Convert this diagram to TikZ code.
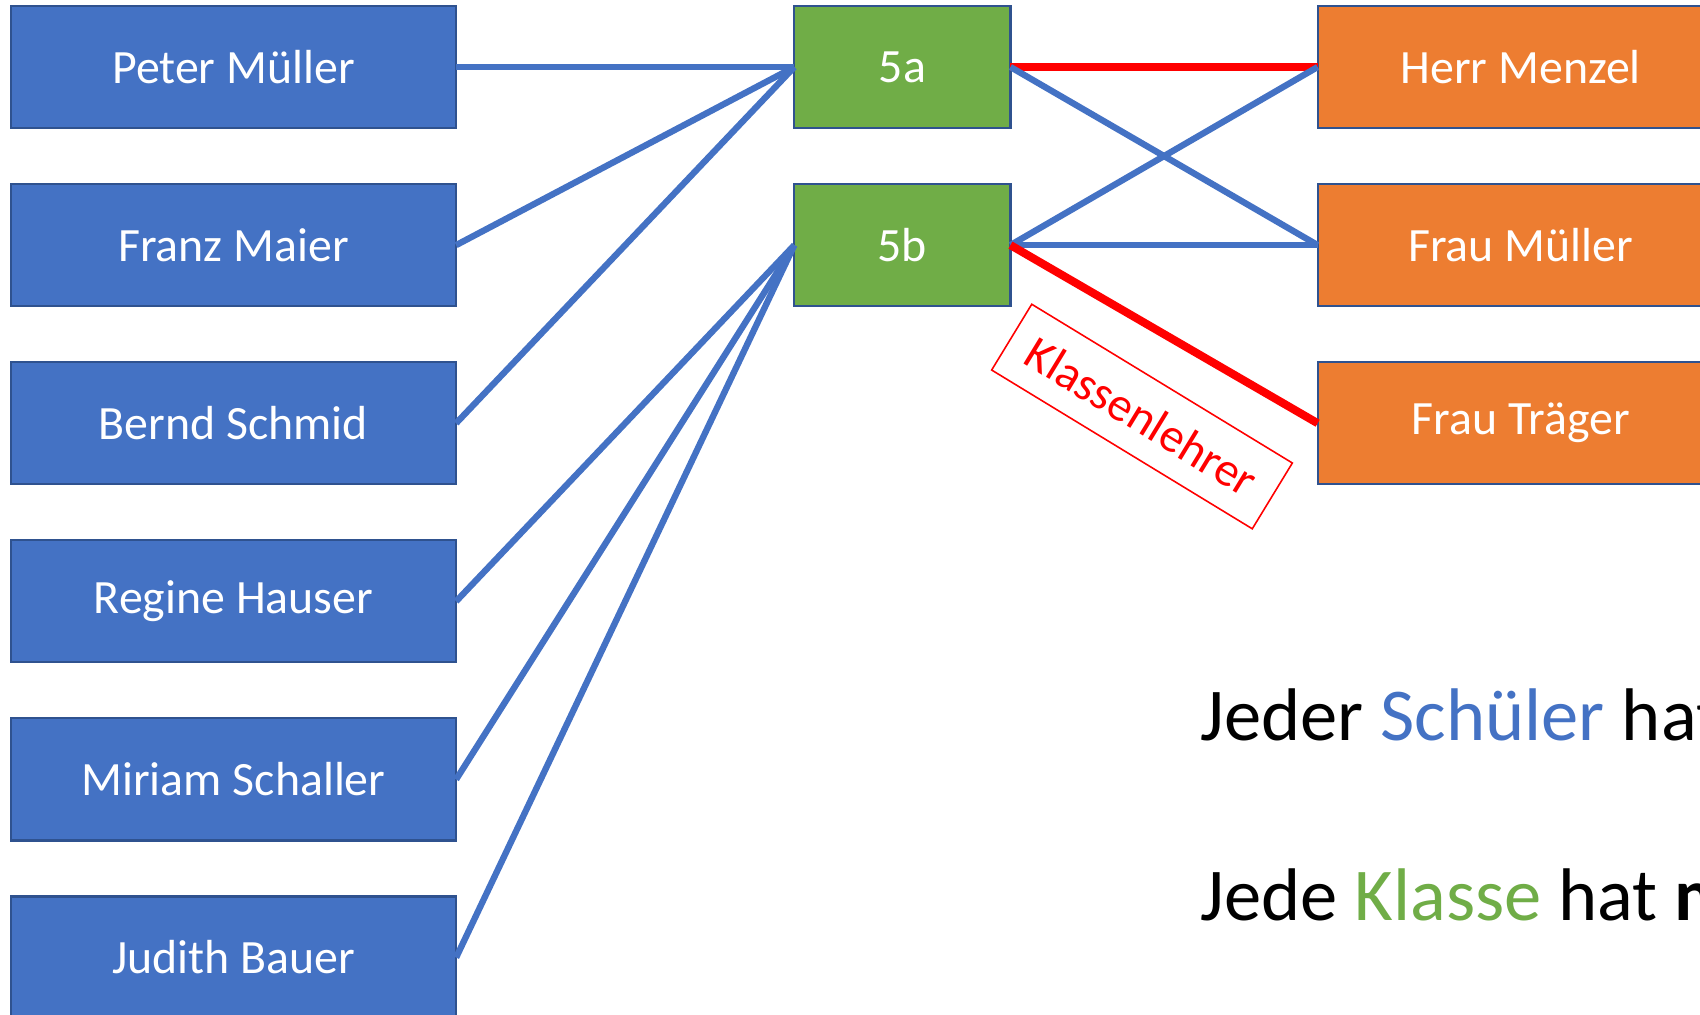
\documentclass[tikz,border=0pt]{standalone}
\usepackage{fontspec}
\setmainfont{Carlito}
\usepackage{tikz}
\usetikzlibrary{positioning}
\definecolor{officeblue}{HTML}{4472C4}
\definecolor{officeborder}{HTML}{2F528F}
\definecolor{officegreen}{HTML}{70AD47}
\definecolor{officeorange}{HTML}{ED7D31}
\tikzset{
    entitynode/.style = {
        align=center,
        text centered,
        rectangle,
        draw=officeborder,
        line width=0.6pt,
        text=white,
        font=\fontsize{13.6}{16}\selectfont,
        minimum height=1.22cm,
        inner sep=1mm,
        outer sep=0mm
    },
    schuelernode/.style = {
        entitynode,
        fill=officeblue,
        minimum width=4.45cm
    },
    klassennode/.style = {
        entitynode,
        fill=officegreen,
        minimum width=2.16cm
    },
    lehrernode/.style = {
        entitynode,
        fill=officeorange,
        minimum width=4.06cm
    },
    labelnode/.style = {
        draw=red,
        text=red,
        line width=0.45pt,
        font=\fontsize{13.6}{16}\selectfont,
        minimum width=3.05cm,
        minimum height=0.77cm
    },
    satznode/.style = {
        anchor=base west,
        inner sep=0pt,
        font=\fontsize{21.2}{25}\selectfont
    },
    link/.style = {draw=officeblue, line width=1.8pt},
    redlink/.style = {draw=red, line width=2.3pt}
}

\begin{document}
\begin{tikzpicture}[x=0.01cm, y=-0.01cm, node distance=0.56cm]
    \useasboundingbox (0,0) rectangle (1700,1014);

    % Schueler
    \node [schuelernode] (peter) at (233.5,67) {Peter Müller};
    \node [schuelernode, below=of peter] (franz) {Franz Maier};
    \node [schuelernode, below=of franz] (bernd) {Bernd Schmid};
    \node [schuelernode, below=of bernd] (regine) {Regine Hauser};
    \node [schuelernode, below=of regine] (miriam) {Miriam Schaller};
    \node [schuelernode, below=of miriam] (judith) {Judith Bauer};

    % Klassen
    \node [klassennode, right=3.38cm of peter] (k5a) {5a};
    \node [klassennode, below=of k5a] (k5b) {5b};

    % Lehrer
    \node [lehrernode, right=3.07cm of k5a] (menzel) {Herr Menzel};
    \node [lehrernode, below=of menzel] (mueller) {Frau Müller};
    \node [lehrernode, below=of mueller] (traeger) {Frau Träger};

    \draw [link] (peter.east) -- (k5a.west);
    \draw [link] (franz.east) -- (k5a.west);
    \draw [link] (bernd.east) -- (k5a.west);
    \draw [link] (regine.east) -- (k5b.west);
    \draw [link] (miriam.east) -- (k5b.west);
    \draw [link] (judith.east) -- (k5b.west);

    \draw [redlink] (k5a.east) -- (menzel.west);
    \draw [link] (k5a.east) -- (mueller.west);
    \draw [link] (k5b.east) -- (menzel.west);
    \draw [link] (k5b.east) -- (mueller.west);
    \draw [redlink] (k5b.east) -- (traeger.west);

    \node [labelnode, rotate=-31.35] (klassenlehrer) at (1142,416.5) {Klassenlehrer};

    \node [satznode] (satz1) at (1200,740) {Jeder \textcolor{officeblue}{Schüler} hat};
    \node [satznode] (satz2) at (1200,920) {Jede \textcolor{officegreen}{Klasse} hat \textbf{m}};
\end{tikzpicture}
\end{document}
